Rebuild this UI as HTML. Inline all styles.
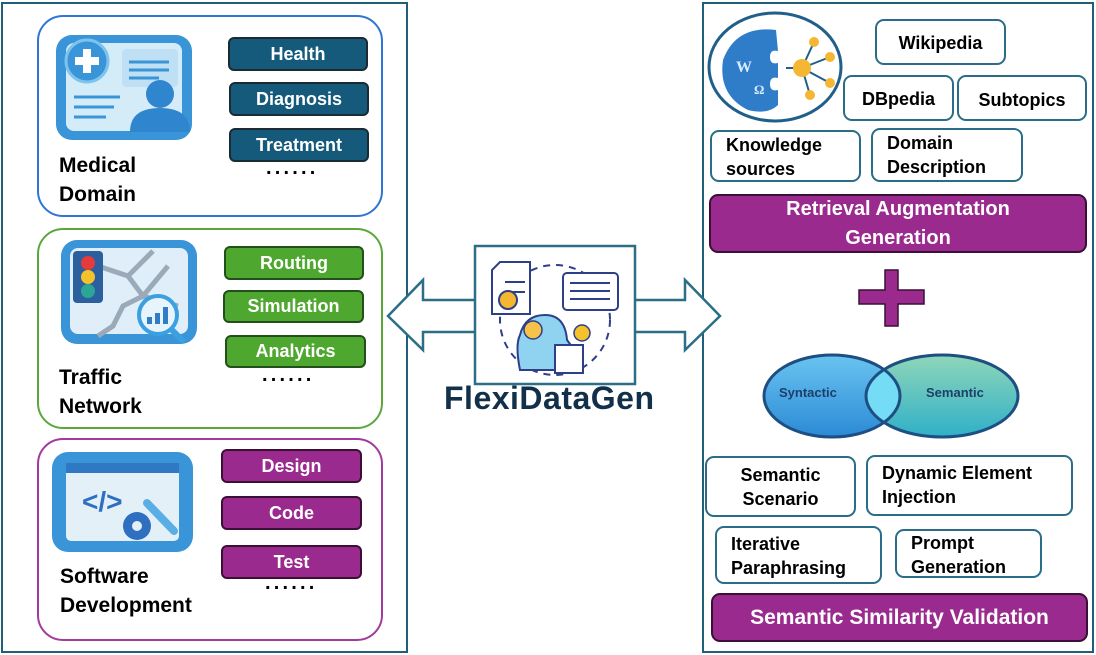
<!DOCTYPE html>
<html><head><meta charset="utf-8"><style>
*{margin:0;padding:0;box-sizing:border-box}
body{width:1096px;height:655px;background:#fff;position:relative;overflow:hidden;font-family:"Liberation Sans",sans-serif;font-weight:bold}
.a{position:absolute}
.pill{position:absolute;border-radius:6px;color:#fff;font-size:18px;display:flex;align-items:center;justify-content:center;border:2px solid #1b2b33}
.bl{background:#155a7a}
.gr{background:#4ea72e;border-color:#23501a}
.pu{background:#9b2a8e;border-color:#3a1037}
.wb{position:absolute;border:2px solid #2b6d88;border-radius:9px;background:#fff;font-size:18px;color:#000;line-height:24px}
.lbl{position:absolute;font-size:21px;line-height:29px;color:#000}
.dots{position:absolute;font-size:20px;letter-spacing:3.2px;color:#000}
</style></head><body>
<div class="a" style="left:1px;top:2px;width:407px;height:651px;border:2px solid #1f5f7a"></div>
<div class="a" style="left:702px;top:2px;width:392px;height:651px;border:2px solid #1f5f7a"></div>

<div class="a" style="left:37px;top:15px;width:346px;height:202px;border:2px solid #2e75d6;border-radius:26px"></div>
<div class="a" style="left:37px;top:228px;width:346px;height:201px;border:2px solid #5aa83a;border-radius:26px"></div>
<div class="a" style="left:37px;top:438px;width:346px;height:203px;border:2px solid #a23a9e;border-radius:26px"></div>

<svg class="a" style="left:54px;top:32px" width="142" height="112" viewBox="0 0 142 112">
<rect x="2" y="3" width="136" height="105" rx="16" fill="#3a95d8"/>
<rect x="12" y="11" width="116" height="88" rx="8" fill="#d4ebf8"/>
<rect x="68" y="17" width="56" height="38" rx="4" fill="#bfe0f4"/>
<line x1="75" y1="30" x2="115" y2="30" stroke="#3a95d8" stroke-width="3"/>
<line x1="75" y1="38" x2="115" y2="38" stroke="#3a95d8" stroke-width="3"/>
<line x1="75" y1="46" x2="105" y2="46" stroke="#3a95d8" stroke-width="3"/>
<circle cx="33" cy="29" r="21" fill="#3a95d8" stroke="#7cc3ee" stroke-width="3"/>
<path d="M29 17h8v8h8v8h-8v8h-8v-8h-8v-8h8z" fill="#fff"/>
<line x1="20" y1="65" x2="66" y2="65" stroke="#3a95d8" stroke-width="3"/>
<line x1="20" y1="75" x2="60" y2="75" stroke="#3a95d8" stroke-width="3"/>
<line x1="20" y1="85" x2="52" y2="85" stroke="#3a95d8" stroke-width="3"/>
<circle cx="106" cy="62" r="14" fill="#2f86cf"/>
<path d="M76 100 q0-24 30-24 q30 0 30 24z" fill="#2f86cf"/>
</svg>
<div class="pill bl" style="left:228px;top:37px;width:140px;height:34px">Health</div>
<div class="pill bl" style="left:229px;top:82px;width:140px;height:34px">Diagnosis</div>
<div class="pill bl" style="left:229px;top:128px;width:140px;height:34px">Treatment</div>
<div class="dots" style="left:266px;top:157px">......</div>
<div class="lbl" style="left:59px;top:151px">Medical<br>Domain</div>

<svg class="a" style="left:58px;top:236px" width="142" height="112" viewBox="0 0 142 112">
<rect x="3" y="4" width="136" height="104" rx="16" fill="#3a95d8"/>
<rect x="12" y="12" width="118" height="86" rx="8" fill="#dfeef8"/>
<path d="M40 30 L70 40 L85 60 L110 30 M70 40 L95 15 M85 60 L65 70 L55 90 L40 100 M85 60 L120 70" stroke="#9aaab8" stroke-width="5" fill="none"/>
<rect x="15" y="15" width="30" height="52" rx="4" fill="#2c5f9e"/>
<circle cx="30" cy="27" r="7" fill="#e63b3b"/>
<circle cx="30" cy="41" r="7" fill="#f5c22c"/>
<circle cx="30" cy="55" r="7" fill="#2aa596"/>
<circle cx="100" cy="79" r="19" fill="#e8f4fb" stroke="#3aa0e0" stroke-width="4"/>
<line x1="113" y1="93" x2="126" y2="106" stroke="#3aa0e0" stroke-width="6"/>
<rect x="89" y="81" width="5" height="7" fill="#2f7cc9"/><rect x="97" y="77" width="5" height="11" fill="#2f7cc9"/><rect x="105" y="71" width="5" height="17" fill="#2f7cc9"/>
</svg>
<div class="pill gr" style="left:224px;top:246px;width:140px;height:34px">Routing</div>
<div class="pill gr" style="left:223px;top:290px;width:141px;height:33px">Simulation</div>
<div class="pill gr" style="left:225px;top:335px;width:141px;height:33px">Analytics</div>
<div class="dots" style="left:262px;top:364px">......</div>
<div class="lbl" style="left:59px;top:363px">Traffic<br>Network</div>

<svg class="a" style="left:52px;top:451px" width="142" height="102" viewBox="0 0 142 102">
<rect x="0" y="1" width="141" height="100" rx="16" fill="#3a95d8"/>
<rect x="14" y="12" width="113" height="78" rx="5" fill="#e4f0f8"/>
<rect x="14" y="12" width="113" height="10" fill="#2f78c4"/>
<text x="30" y="60" font-family="Liberation Sans" font-size="28" font-weight="bold" fill="#2f6fc0">&lt;/&gt;</text>
<circle cx="85" cy="75" r="14" fill="#2f6fc0"/><circle cx="85" cy="75" r="5" fill="#e4f0f8"/>
<line x1="95" y1="52" x2="122" y2="80" stroke="#5aaee6" stroke-width="8" stroke-linecap="round"/>
</svg>
<div class="pill pu" style="left:221px;top:449px;width:141px;height:34px">Design</div>
<div class="pill pu" style="left:221px;top:496px;width:141px;height:34px">Code</div>
<div class="pill pu" style="left:221px;top:545px;width:141px;height:34px">Test</div>
<div class="dots" style="left:265px;top:572px">......</div>
<div class="lbl" style="left:60px;top:562px">Software<br>Development</div>

<svg class="a" style="left:380px;top:240px" width="350" height="150" viewBox="380 240 350 150">
<polygon points="388,316 423,280 423,300 685,300 685,280 720,316 685,350 685,332 423,332 423,350" fill="#fff" stroke="#2a6f86" stroke-width="2.5" stroke-linejoin="miter"/>
<rect x="475" y="246" width="160" height="138" fill="#fff" stroke="#2a6f86" stroke-width="2.5"/>
<circle cx="555" cy="320" r="55" fill="none" stroke="#2e3f8a" stroke-width="2" stroke-dasharray="7 6"/>
<path d="M500 262h30v52h-38v-44z" fill="#fff" stroke="#2e3f8a" stroke-width="2"/>
<line x1="505" y1="282" x2="525" y2="282" stroke="#2e3f8a" stroke-width="2"/><line x1="505" y1="292" x2="525" y2="292" stroke="#2e3f8a" stroke-width="2"/>
<circle cx="508" cy="300" r="9" fill="#f5b731" stroke="#2e3f8a" stroke-width="2"/>
<rect x="563" y="273" width="55" height="37" rx="4" fill="#fff" stroke="#2e3f8a" stroke-width="2"/>
<line x1="570" y1="283" x2="610" y2="283" stroke="#2e3f8a" stroke-width="2"/><line x1="570" y1="291" x2="610" y2="291" stroke="#2e3f8a" stroke-width="2"/><line x1="570" y1="299" x2="610" y2="299" stroke="#2e3f8a" stroke-width="2"/>
<path d="M520 370 q-5-25 0-35 q5-20 25-20 q20 0 22 25 l6 8 h-6 v12 h-12 v10z" fill="#8fd3f0" stroke="#2e3f8a" stroke-width="2"/>
<circle cx="533" cy="330" r="9" fill="#f5c24a" stroke="#2e3f8a" stroke-width="1.5"/>
<rect x="555" y="345" width="28" height="28" fill="#fff" stroke="#2e3f8a" stroke-width="2"/>
<circle cx="582" cy="333" r="8" fill="#f5c22c" stroke="#2e3f8a" stroke-width="1.5"/>
</svg>
<div class="a" style="left:444px;top:380px;font-size:32px;color:#13304a;letter-spacing:0.5px">FlexiDataGen</div>

<svg class="a" style="left:706px;top:10px" width="140" height="116" viewBox="0 0 140 116">
<ellipse cx="69" cy="57" rx="66" ry="54" fill="#fff" stroke="#1f5f8a" stroke-width="3"/>
<path d="M70 20 q-40 -5 -53 30 q-5 35 25 50 q20 5 30 -5 v-15 q-8 2 -8 -6 q0 -8 8 -6 v-15 q-8 2 -8 -6 q0 -8 8 -6z" fill="#2f7cc9"/>
<text x="30" y="62" font-family="Liberation Serif" font-size="16" font-weight="bold" fill="#d8ecff">W</text>
<text x="48" y="84" font-family="Liberation Serif" font-size="13" fill="#d8ecff">Ω</text>
<line x1="80" y1="58" x2="96" y2="58" stroke="#1f5f8a" stroke-width="2"/>
<g stroke="#1f5f8a" stroke-width="2"><line x1="96" y1="58" x2="108" y2="32"/><line x1="96" y1="58" x2="124" y2="47"/><line x1="96" y1="58" x2="124" y2="73"/><line x1="96" y1="58" x2="104" y2="85"/></g>
<circle cx="96" cy="58" r="9" fill="#f5b731"/>
<circle cx="108" cy="32" r="5" fill="#f5b731"/><circle cx="124" cy="47" r="5" fill="#f5b731"/><circle cx="124" cy="73" r="5" fill="#f5b731"/><circle cx="104" cy="85" r="5" fill="#f5b731"/>
</svg>
<div class="wb" style="left:875px;top:19px;width:131px;height:46px;text-align:center;padding-top:10px">Wikipedia</div>
<div class="wb" style="left:843px;top:75px;width:111px;height:46px;text-align:center;padding-top:10px">DBpedia</div>
<div class="wb" style="left:957px;top:75px;width:130px;height:46px;text-align:center;padding-top:11px">Subtopics</div>
<div class="wb" style="left:710px;top:130px;width:151px;height:52px;padding-left:14px;padding-top:1px">Knowledge<br>sources</div>
<div class="wb" style="left:871px;top:128px;width:152px;height:54px;padding-left:14px;padding-top:1px">Domain<br>Description</div>
<div class="pill pu" style="left:709px;top:194px;width:378px;height:59px;font-size:20px;line-height:29px;text-align:center;border-radius:9px">Retrieval Augmentation<br>Generation</div>

<svg class="a" style="left:856px;top:268px" width="72" height="60">
<path d="M29 2h13v20h26v14h-26v22h-13v-22h-26v-14h26z" fill="#9b2a8e" stroke="#3a1037" stroke-width="1.5"/>
</svg>

<svg class="a" style="left:760px;top:352px" width="262" height="90" viewBox="760 352 262 90">
<defs>
<linearGradient id="g1" x1="0" y1="0" x2="0" y2="1"><stop offset="0" stop-color="#6ac4f0"/><stop offset="1" stop-color="#2b8ad6"/></linearGradient>
<linearGradient id="g2" x1="0" y1="0" x2="0" y2="1"><stop offset="0" stop-color="#8fd6b8"/><stop offset="1" stop-color="#2fb0c8"/></linearGradient>
<clipPath id="c1"><ellipse cx="832" cy="396" rx="68" ry="41"/></clipPath>
</defs>
<ellipse cx="942" cy="396" rx="76" ry="41" fill="url(#g2)"/>
<ellipse cx="832" cy="396" rx="68" ry="41" fill="url(#g1)"/>
<ellipse cx="942" cy="396" rx="76" ry="41" fill="#74dcf5" clip-path="url(#c1)"/>
<ellipse cx="832" cy="396" rx="68" ry="41" fill="none" stroke="#1d4f82" stroke-width="3"/>
<ellipse cx="942" cy="396" rx="76" ry="41" fill="none" stroke="#1d4f82" stroke-width="3"/>
<text x="779" y="397" font-family="Liberation Sans" font-size="13" font-weight="bold" fill="#1d3f6a">Syntactic</text>
<text x="926" y="397" font-family="Liberation Sans" font-size="13" font-weight="bold" fill="#1d3f6a">Semantic</text>
</svg>

<div class="wb" style="left:705px;top:456px;width:151px;height:61px;text-align:center;padding-top:5px">Semantic<br>Scenario</div>
<div class="wb" style="left:866px;top:455px;width:207px;height:61px;padding-left:14px;padding-top:4px">Dynamic Element<br>Injection</div>
<div class="wb" style="left:715px;top:526px;width:167px;height:58px;padding-left:14px;padding-top:4px">Iterative<br>Paraphrasing</div>
<div class="wb" style="left:895px;top:529px;width:147px;height:49px;padding-left:14px;padding-top:0">Prompt<br>Generation</div>
<div class="pill pu" style="left:711px;top:593px;width:377px;height:49px;font-size:21px;border-radius:9px">Semantic Similarity Validation</div>
</body></html>
